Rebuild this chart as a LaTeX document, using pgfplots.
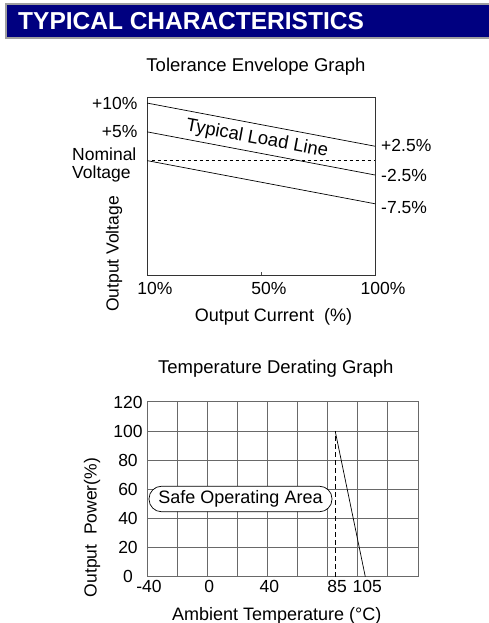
\documentclass[border=0pt]{standalone}
\usepackage{fontspec}
\setmainfont{Liberation Sans}
\usepackage{pgfplots}
\pgfplotsset{compat=1.18}
\definecolor{navy}{RGB}{0,0,128}
\definecolor{gridgray}{RGB}{105,105,105}
\newcommand{\fs}[1]{\fontsize{#1}{#1}\selectfont}

\begin{document}
\begin{tikzpicture}[x=1pt,y=1pt]
\useasboundingbox (0,0) rectangle (488,623);

% heading bar
\fill[navy] (5,584) rectangle (492,620);
\draw[gray!75,line width=2pt] (492,585) -- (6,585) -- (6,619) -- (492,619);
\node[anchor=base west,text=white,inner sep=0,font=\bfseries\fs{24.5}] at (18,593) {TYPICAL CHARACTERISTICS};

% ---- tolerance envelope ----
\node[anchor=base,inner sep=0,font=\fs{18.5}] at (256,551.3) {Tolerance Envelope Graph};
\begin{axis}[
    at={(147pt,347.3pt)}, anchor=south west,
    scale only axis, width=228pt, height=178.4pt,
    xmin=0, xmax=1, ymin=-20, ymax=11,
    axis line style={black!80,line width=0.9pt},
    xtick={0,0.5,1}, xticklabels={10\%,50\%,100\%},
    xtick pos=bottom, tick align=inside, major tick length=4pt,
    xtick style={black!70,line width=0.8pt},
    ytick={10,5}, yticklabels={+10\%,+5\%}, ytick pos=left,
    ytick style={draw=none},
    tick label style={font=\fs{17.5}},
    xticklabel style={xshift=8pt,yshift=-3pt},
    yticklabel style={xshift=-6pt},
  ]
  \addplot[black,line width=0.7pt] coordinates {(0,10) (1,2.5)};
  \addplot[black,line width=0.7pt] coordinates {(0,5) (1,-2.5)};
  \addplot[black,line width=0.7pt] coordinates {(0,0) (1,-7.5)};
  \addplot[black,line width=0.7pt,dash pattern=on 3pt off 3pt] coordinates {(0.02,0) (1,0)};
\end{axis}
\node[rotate=-10.5,inner sep=0,font=\fs{18.5}] at (257,484) {Typical Load Line};
\node[anchor=west,inner sep=0,font=\fs{17.5}] at (381,478) {+2.5\%};
\node[anchor=west,inner sep=0,font=\fs{17.5}] at (381,448) {-2.5\%};
\node[anchor=west,inner sep=0,font=\fs{17.5}] at (381,415) {-7.5\%};
\node[anchor=west,inner sep=0,align=left,font=\fs{17.5}] at (72,458) {Nominal\\[1pt]Voltage};
\node[rotate=90,inner sep=0,font=\fs{17.5}] at (114,369) {Output Voltage};
\node[inner sep=0,font=\fs{18}] at (273.5,306) {Output Current~~(\%)};

% ---- temperature derating ----
\node[anchor=base,inner sep=0,font=\fs{18.5}] at (275.8,249.7) {Temperature Derating Graph};
\begin{axis}[
    at={(147pt,46.3pt)}, anchor=south west,
    scale only axis, width=271pt, height=174.7pt,
    xmin=-40, xmax=140, ymin=0, ymax=120,
    xtick={-40,0,40,85,105}, xticklabels={-40,0,40,85,105},
    ytick={0,20,...,120}, yticklabels={0,20,40,60,80,100,120},
    minor xtick={-20,0,...,120}, minor ytick={20,40,...,100},
    grid=minor, minor grid style={gridgray,line width=0.9pt},
    major tick length=0pt, minor tick length=0pt,
    axis line style={gridgray,line width=1pt},
    tick label style={font=\fs{17.5}},
    xticklabel style={xshift=2pt},
    yticklabel style={anchor=center,xshift=-19pt},
  ]
  \addplot[black,line width=0.7pt] coordinates {(85,100) (105,0)};
  \addplot[black,line width=0.7pt,dash pattern=on 5pt off 3pt] coordinates {(85,0) (85,100)};
  \addplot[gridgray,line width=0.9pt] coordinates {(-40,100) (85,100)};
\end{axis}
\node[draw=black,line width=0.7pt,fill=white,rounded corners=12.5pt,
      minimum width=183pt,minimum height=25.5pt,inner sep=0,font=\fs{18}]
      at (240.5,124) {Safe Operating Area};
\node[rotate=90,inner sep=0,font=\fs{17.5}] at (92,95.5) {Output~~Power(\%)};
\node[inner sep=0,font=\fs{18}] at (276.7,7) {Ambient Temperature (°C)};
\end{tikzpicture}
\end{document}
